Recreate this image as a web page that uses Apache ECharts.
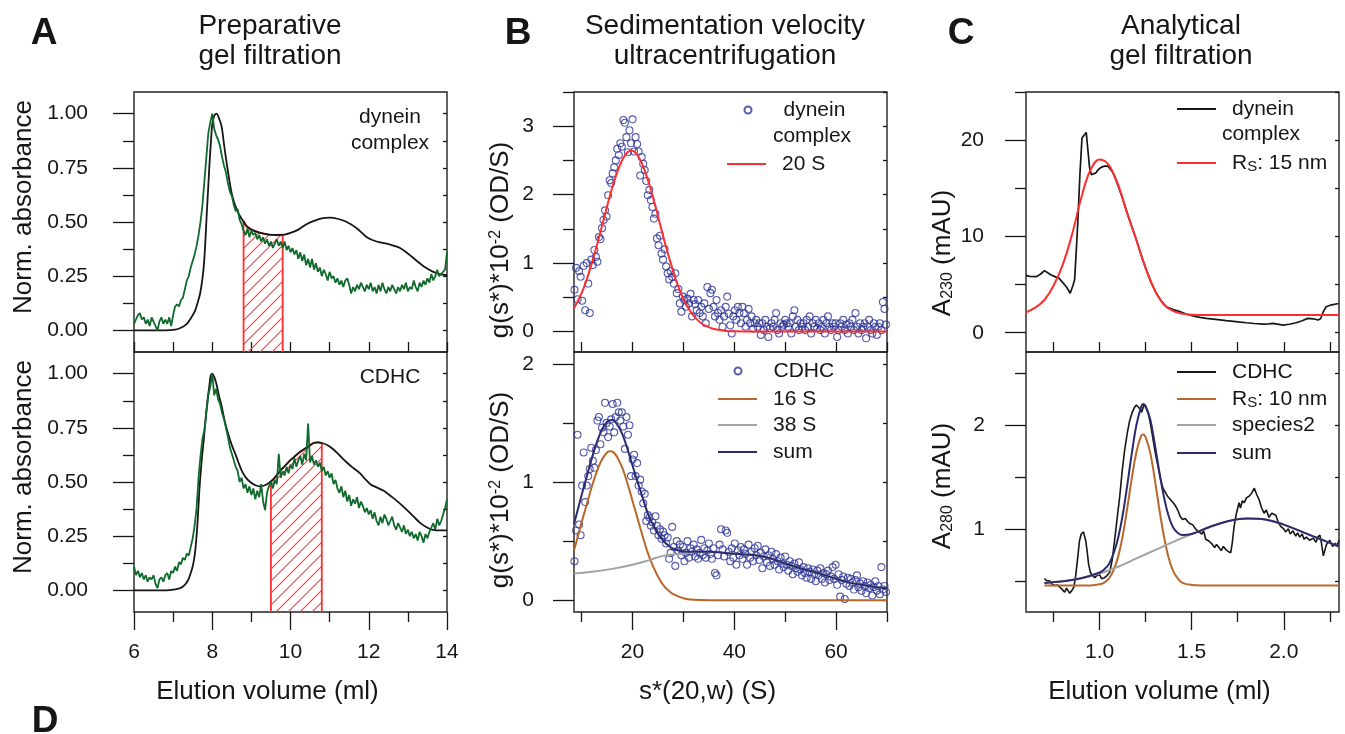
<!DOCTYPE html>
<html><head><meta charset="utf-8">
<script src="https://cdn.jsdelivr.net/npm/echarts@6.0.0/dist/echarts.min.js"></script>
<style>html,body{margin:0;padding:0;background:#fff}#c{width:1345px;height:734px}</style>
</head><body><div id="c"></div>
<script>
// ---------------- DATA ----------------
// Panel A: preparative gel filtration (elution volume grid for noisy green traces)
const volGridA = [6,6.05,6.1,6.15,6.2,6.25,6.3,6.35,6.4,6.45,6.5,6.55,6.6,6.65,6.7,6.75,6.8,6.85,6.9,6.95,
7,7.05,7.1,7.15,7.2,7.25,7.3,7.35,7.4,7.45,7.5,7.55,7.6,7.65,7.7,7.75,7.8,7.85,7.9,7.95,
8,8.05,8.1,8.15,8.2,8.25,8.3,8.35,8.4,8.45,8.5,8.55,8.6,8.65,8.7,8.75,8.8,8.85,8.9,8.95,
9,9.05,9.1,9.15,9.2,9.25,9.3,9.35,9.4,9.45,9.5,9.55,9.6,9.65,9.7,9.75,9.8,9.85,9.9,9.95,
10,10.05,10.1,10.15,10.2,10.25,10.3,10.35,10.4,10.45,10.5,10.55,10.6,10.65,10.7,10.75,10.8,10.85,10.9,10.95,
11,11.05,11.1,11.15,11.2,11.25,11.3,11.35,11.4,11.45,11.5,11.55,11.6,11.65,11.7,11.75,11.8,11.85,11.9,11.95,
12,12.05,12.1,12.15,12.2,12.25,12.3,12.35,12.4,12.45,12.5,12.55,12.6,12.65,12.7,12.75,12.8,12.85,12.9,12.95,
13,13.05,13.1,13.15,13.2,13.25,13.3,13.35,13.4,13.45,13.5,13.55,13.6,13.65,13.7,13.75,13.8,13.85,13.9,13.95,
14];
const greenDynein = [0.03,0.05,0.07,0.08,0.05,0.06,0.03,0.05,0.02,0.06,0.04,0.02,0.00,0.04,0.06,0.03,0.05,0.03,0.06,0.02,
0.07,0.11,0.12,0.11,0.14,0.15,0.19,0.23,0.25,0.29,0.32,0.35,0.39,0.44,0.50,0.58,0.69,0.80,0.91,0.96,
1.00,0.93,0.90,0.88,0.85,0.80,0.76,0.73,0.68,0.64,0.62,0.58,0.55,0.56,0.51,0.49,0.46,0.44,0.47,0.43,
0.46,0.44,0.45,0.42,0.44,0.41,0.43,0.40,0.42,0.39,0.41,0.38,0.40,0.42,0.39,0.41,0.38,0.41,0.37,0.39,
0.36,0.38,0.35,0.37,0.33,0.36,0.32,0.35,0.30,0.33,0.29,0.33,0.28,0.31,0.27,0.29,0.25,0.28,0.26,0.23,
0.27,0.24,0.25,0.22,0.24,0.21,0.23,0.20,0.23,0.24,0.21,0.17,0.20,0.18,0.21,0.19,0.22,0.20,0.18,0.21,
0.19,0.22,0.18,0.20,0.17,0.21,0.18,0.22,0.19,0.17,0.20,0.18,0.21,0.19,0.17,0.20,0.18,0.21,0.19,0.22,
0.18,0.20,0.19,0.23,0.20,0.18,0.22,0.20,0.23,0.21,0.24,0.22,0.26,0.23,0.25,0.28,0.25,0.26,0.26,0.28,
0.36];
const greenCDHC = [0.11,0.07,0.09,0.06,0.08,0.05,0.07,0.04,0.06,0.05,0.07,0.03,0.01,0.05,0.06,0.04,0.07,0.08,0.05,0.09,
0.08,0.11,0.09,0.13,0.12,0.15,0.14,0.17,0.16,0.20,0.24,0.30,0.38,0.52,0.62,0.70,0.74,0.82,0.90,0.94,
1.00,0.90,0.93,0.88,0.86,0.82,0.79,0.75,0.71,0.66,0.63,0.60,0.57,0.55,0.50,0.52,0.47,0.49,0.45,0.48,
0.44,0.47,0.42,0.46,0.43,0.49,0.41,0.37,0.45,0.48,0.50,0.47,0.51,0.49,0.63,0.52,0.55,0.53,0.57,0.54,
0.58,0.56,0.61,0.57,0.60,0.62,0.58,0.63,0.60,0.77,0.59,0.62,0.58,0.60,0.57,0.59,0.55,0.57,0.53,0.55,
0.52,0.54,0.49,0.51,0.47,0.45,0.48,0.43,0.46,0.41,0.44,0.39,0.42,0.40,0.43,0.38,0.41,0.39,0.36,0.38,
0.35,0.37,0.33,0.36,0.32,0.30,0.34,0.31,0.35,0.33,0.30,0.32,0.34,0.30,0.28,0.31,0.29,0.27,0.30,0.26,
0.28,0.25,0.27,0.24,0.26,0.23,0.27,0.25,0.22,0.26,0.24,0.27,0.29,0.31,0.28,0.33,0.30,0.32,0.35,0.38,
0.42];
const blackDynein = [[6,0],[6.8,0],[7.05,0.003],[7.2,0.012],[7.35,0.03],[7.45,0.055],[7.56,0.09],[7.63,0.13],[7.69,0.17],[7.75,0.24],[7.79,0.31],[7.83,0.43],[7.86,0.54],[7.9,0.67],[7.93,0.77],[7.97,0.88],[8.0,0.95],[8.05,0.99],[8.11,1.0],[8.17,0.98],[8.24,0.94],[8.3,0.86],[8.37,0.77],[8.44,0.69],[8.5,0.63],[8.58,0.58],[8.67,0.54],[8.77,0.51],[8.88,0.48],[9.0,0.465],[9.23,0.45],[9.45,0.442],[9.65,0.44],[9.85,0.442],[10.0,0.45],[10.2,0.465],[10.41,0.49],[10.6,0.505],[10.8,0.517],[11.0,0.52],[11.2,0.515],[11.44,0.5],[11.7,0.47],[11.95,0.43],[12.2,0.41],[12.46,0.4],[12.65,0.39],[12.8,0.38],[13.0,0.355],[13.23,0.32],[13.45,0.29],[13.65,0.27],[13.85,0.258],[14,0.255]];
const blackCDHC = [[6,0],[6.83,0],[7.0,0.003],[7.18,0.01],[7.3,0.025],[7.39,0.05],[7.45,0.08],[7.5,0.11],[7.55,0.16],[7.59,0.23],[7.63,0.33],[7.67,0.46],[7.72,0.58],[7.78,0.69],[7.83,0.79],[7.88,0.88],[7.93,0.95],[7.96,0.99],[8.0,1.0],[8.05,0.985],[8.11,0.95],[8.17,0.9],[8.24,0.85],[8.32,0.78],[8.41,0.72],[8.5,0.67],[8.59,0.63],[8.67,0.59],[8.76,0.55],[8.86,0.52],[8.97,0.5],[9.1,0.485],[9.22,0.48],[9.35,0.485],[9.48,0.5],[9.6,0.52],[9.73,0.55],[9.86,0.575],[9.99,0.6],[10.12,0.62],[10.25,0.64],[10.42,0.66],[10.59,0.68],[10.7,0.683],[10.8,0.68],[10.95,0.67],[11.1,0.65],[11.27,0.62],[11.44,0.59],[11.6,0.565],[11.78,0.54],[11.9,0.515],[12.04,0.49],[12.2,0.475],[12.38,0.46],[12.6,0.43],[12.8,0.4],[12.98,0.37],[13.15,0.34],[13.32,0.31],[13.49,0.29],[13.62,0.28],[13.74,0.277],[14,0.277]];
const poolDynein = [[8.8,-0.1],[8.8,0.505],[8.88,0.48],[9.0,0.465],[9.23,0.45],[9.45,0.442],[9.65,0.44],[9.8,0.442],[9.8,-0.1]];
const poolCDHC = [[9.5,-0.1],[9.5,0.5],[9.6,0.52],[9.73,0.55],[9.86,0.575],[9.99,0.6],[10.12,0.62],[10.25,0.64],[10.42,0.66],[10.59,0.68],[10.7,0.683],[10.8,0.68],[10.8,-0.1]];

// Panel B: sedimentation velocity, g(s*) on an s* grid
const sGrid = [8.6,8.9,9.2,9.5,9.8,10.1,10.4,10.7,11.0,11.3,
11.6,11.9,12.2,12.5,12.8,13.1,13.4,13.7,14.0,14.3,
14.6,14.9,15.2,15.5,15.8,16.1,16.4,16.7,17.0,17.3,
17.6,17.9,18.2,18.5,18.8,19.1,19.4,19.7,20.0,20.3,
20.6,20.9,21.2,21.5,21.8,22.1,22.4,22.7,23.0,23.3,
23.6,23.9,24.2,24.5,24.8,25.1,25.4,25.7,26.0,26.3,
26.6,26.9,27.2,27.5,27.8,28.1,28.4,28.7,29.0,29.3,
29.6,29.9,30.2,30.5,30.8,31.1,31.4,31.7,32.0,32.3,
32.6,32.9,33.2,33.5,33.8,34.1,34.4,34.7,35.0,35.3,
35.6,35.9,36.2,36.5,36.8,37.1,37.4,37.7,38.0,38.3,
38.6,38.9,39.2,39.5,39.8,40.1,40.4,40.7,41.0,41.3,
41.6,41.9,42.2,42.5,42.8,43.1,43.4,43.7,44.0,44.3,
44.6,44.9,45.2,45.5,45.8,46.1,46.4,46.7,47.0,47.3,
47.6,47.9,48.2,48.5,48.8,49.1,49.4,49.7,50.0,50.3,
50.6,50.9,51.2,51.5,51.8,52.1,52.4,52.7,53.0,53.3,
53.6,53.9,54.2,54.5,54.8,55.1,55.4,55.7,56.0,56.3,
56.6,56.9,57.2,57.5,57.8,58.1,58.4,58.7,59.0,59.3,
59.6,59.9,60.2,60.5,60.8,61.1,61.4,61.7,62.0,62.3,
62.6,62.9,63.2,63.5,63.8,64.1,64.4,64.7,65.0,65.3,
65.6,65.9,66.2,66.5,66.8,67.1,67.4,67.7,68.0,68.3,
68.6,68.9,69.2,69.5,69.8];
const gDynein = [0.61,0.93,0.47,0.88,0.80,0.45,0.96,0.31,1.00,0.70,
0.27,1.05,0.97,1.19,1.09,1.02,1.38,1.35,1.51,1.63,
1.77,1.68,1.99,2.21,2.17,2.31,2.40,2.50,2.67,2.58,
2.75,2.70,3.09,3.05,2.84,2.62,2.94,2.75,3.10,2.63,
2.84,2.74,2.63,2.28,2.55,2.45,2.36,2.20,1.99,2.07,
1.92,1.82,1.65,1.72,1.36,1.26,1.40,1.14,1.05,1.20,
0.95,0.85,0.76,0.88,0.80,0.70,0.85,0.56,0.62,0.41,
0.29,0.51,0.46,0.36,0.48,0.41,0.55,0.22,0.46,0.40,
0.31,0.46,0.27,0.36,0.22,0.41,0.12,0.65,0.33,0.56,
0.61,0.36,0.22,0.46,0.27,0.17,0.31,0.07,0.22,0.36,
0.51,0.26,0.09,-0.03,0.22,0.31,0.17,0.36,0.27,0.12,
0.36,0.27,0.07,0.17,0.33,0.12,0.22,0.04,0.12,0.17,
0.07,0.12,-0.05,0.12,0.02,0.17,0.07,-0.08,0.05,0.12,
0.07,0.17,0.27,0.02,-0.03,0.12,0.07,0.10,0.17,0.12,
0.07,0.12,-0.03,0.22,0.31,0.07,0.17,0.02,0.12,0.07,
0.12,0.02,0.17,0.07,0.22,-0.03,0.12,0.07,0.17,0.05,
0.12,0.02,0.07,0.17,-0.03,0.12,0.22,0.07,0.02,0.12,
0.07,0.12,-0.08,0.02,0.12,0.07,0.17,0.02,0.10,-0.03,
0.12,0.07,0.17,0.02,0.27,0.07,-0.03,0.12,0.02,0.07,
0.12,-0.10,0.07,0.17,0.02,-0.03,0.12,0.07,-0.05,0.07,
0.12,0.02,0.43,0.33,0.10];
const gCDHC = [0.33,0.59,1.40,0.64,0.55,0.97,1.25,0.83,0.97,1.05,
1.11,1.29,1.18,1.12,1.27,1.52,1.55,1.32,1.46,1.42,
1.67,1.50,1.38,1.47,1.53,1.66,1.42,1.55,1.67,1.59,
1.52,1.59,1.47,1.28,1.55,1.40,1.48,1.05,1.19,1.23,
1.05,1.16,0.97,1.02,0.92,0.82,0.90,0.67,0.72,0.70,
0.63,0.66,0.59,0.71,0.63,0.55,0.60,0.52,0.58,0.55,
0.48,0.53,0.35,0.40,0.62,0.45,0.29,0.50,0.42,0.47,
0.38,0.45,0.33,0.40,0.50,0.36,0.44,0.41,0.47,0.37,
0.43,0.35,0.40,0.51,0.38,0.44,0.36,0.42,0.48,0.39,
0.35,0.44,0.23,0.21,0.38,0.47,0.60,0.43,0.37,0.59,
0.57,0.41,0.33,0.44,0.36,0.48,0.30,0.42,0.38,0.45,
0.35,0.43,0.39,0.30,0.47,0.36,0.41,0.33,0.44,0.38,
0.46,0.34,0.40,0.27,0.37,0.43,0.32,0.38,0.29,0.41,
0.35,0.30,0.39,0.33,0.26,0.36,0.31,0.28,0.37,0.30,
0.25,0.33,0.29,0.22,0.31,0.27,0.24,0.32,0.26,0.21,
0.28,0.23,0.19,0.27,0.24,0.18,0.26,0.22,0.16,0.25,
0.21,0.27,0.18,0.23,0.15,0.22,0.25,0.17,0.20,0.28,
0.18,0.30,0.13,0.22,0.03,0.17,0.20,0.01,0.14,0.19,
0.12,0.18,0.15,0.09,0.17,0.21,0.11,0.14,0.08,0.16,
0.12,0.06,0.15,0.10,0.13,0.04,0.11,0.16,0.08,0.12,
0.05,0.28,0.09,0.12,0.07];
const fit20S = [[8.5,0.34],[10,0.56],[11,0.76],[12,1.00],[13,1.26],[14,1.54],[15,1.83],[16,2.10],[17,2.33],[18,2.51],[19,2.62],[19.75,2.64],[20.5,2.62],[21.5,2.51],[22.5,2.33],[23.5,2.10],[24.5,1.83],[25.5,1.54],[26.5,1.26],[27.5,1.00],[28.5,0.76],[29.5,0.56],[30.5,0.40],[31.5,0.28],[32.5,0.19],[33.5,0.12],[34.5,0.077],[36,0.036],[38,0.012],[40,0.003],[45,0],[70,0]];
const fit16S = [[8.5,0.42],[10,0.66],[11,0.81],[12,0.96],[13,1.09],[14,1.19],[15,1.25],[15.6,1.26],[16,1.258],[17,1.21],[18,1.12],[19,0.99],[20,0.84],[21,0.69],[22,0.54],[23,0.40],[24,0.29],[25,0.20],[26,0.13],[27,0.084],[28,0.051],[30,0.017],[32,0.004],[35,0],[70,0]];
const fit38S = [[8.5,0.225],[12,0.24],[16,0.265],[20,0.30],[23,0.335],[26,0.375],[29,0.39],[32,0.405],[35,0.41],[38,0.40],[41,0.39],[44,0.38],[47,0.355],[50,0.31],[53,0.27],[56,0.235],[59,0.195],[62,0.155],[65,0.13],[68,0.11],[70,0.10]];
const fitSumSV = [[8.5,0.645],[10,0.89],[11,1.045],[12,1.2],[13,1.337],[14,1.443],[15,1.51],[16,1.525],[17,1.485],[18,1.405],[19,1.28],[20,1.14],[21,1.0],[22,0.865],[23,0.735],[24,0.64],[25,0.56],[26,0.505],[27,0.464],[28,0.436],[30,0.412],[32,0.409],[35,0.41],[38,0.40],[41,0.39],[44,0.38],[47,0.355],[50,0.31],[53,0.27],[56,0.235],[59,0.195],[62,0.155],[65,0.13],[68,0.11],[70,0.10]];

// Panel C: analytical gel filtration
const a230Dynein = [[0.6,5.95],[0.62,5.85],[0.656,5.82],[0.68,6.1],[0.7,6.45],[0.72,6.2],[0.737,6.0],[0.76,5.8],[0.78,5.65],[0.8,5.2],[0.819,4.78],[0.84,4.1],[0.855,4.9],[0.864,5.5],[0.873,8.5],[0.882,11.7],[0.893,16.5],[0.904,20.2],[0.915,20.5],[0.927,20.8],[0.936,19.0],[0.945,17.2],[0.955,16.4],[0.965,16.2],[0.98,16.6],[0.99,16.9],[1.01,17.2],[1.027,17.3],[1.045,17.3],[1.054,17.2],[1.07,16.7],[1.09,15.8],[1.12,14.2],[1.145,12.7],[1.175,11.0],[1.2,9.6],[1.23,7.8],[1.254,6.5],[1.28,5.2],[1.308,4.1],[1.335,3.3],[1.362,2.7],[1.4,2.4],[1.435,2.19],[1.47,1.95],[1.507,1.74],[1.545,1.6],[1.58,1.49],[1.63,1.38],[1.688,1.25],[1.74,1.15],[1.797,1.04],[1.84,0.96],[1.888,0.9],[1.92,0.93],[1.94,0.97],[1.965,0.9],[1.996,0.79],[2.03,0.88],[2.068,1.04],[2.1,1.25],[2.13,1.49],[2.16,1.45],[2.186,1.32],[2.2,1.45],[2.215,2.2],[2.23,2.7],[2.26,2.9],[2.298,3.04]];
const fitRs15 = [[0.6,2.12],[0.65,2.6],[0.7,3.4],[0.75,4.9],[0.8,7.1],[0.85,10.2],[0.9,14.0],[0.95,16.9],[1.0,18.0],[1.03,17.8],[1.06,17.1],[1.1,15.4],[1.15,12.4],[1.2,9.6],[1.25,6.7],[1.3,4.4],[1.35,2.9],[1.4,2.25],[1.45,1.98],[1.5,1.88],[1.6,1.84],[2.3,1.84]];
const a280CDHC = [[0.7,0.52],[0.715,0.5],[0.728,0.5],[0.74,0.47],[0.755,0.455],[0.77,0.46],[0.783,0.44],[0.795,0.42],[0.81,0.39],[0.82,0.43],[0.83,0.4],[0.837,0.38],[0.85,0.41],[0.86,0.44],[0.87,0.55],[0.882,0.74],[0.89,0.88],[0.9,0.95],[0.912,0.97],[0.918,0.96],[0.925,0.88],[0.933,0.77],[0.94,0.66],[0.95,0.58],[0.96,0.55],[0.973,0.53],[0.985,0.55],[1.0,0.56],[1.01,0.52],[1.027,0.53],[1.04,0.55],[1.054,0.58],[1.068,0.7],[1.082,0.9],[1.095,1.1],[1.109,1.31],[1.122,1.55],[1.136,1.76],[1.15,1.92],[1.163,2.04],[1.177,2.12],[1.19,2.17],[1.2,2.19],[1.21,2.19],[1.22,2.15],[1.228,2.12],[1.235,2.16],[1.241,2.19],[1.25,2.17],[1.264,2.11],[1.277,2.0],[1.29,1.86],[1.303,1.72],[1.317,1.6],[1.33,1.48],[1.344,1.39],[1.357,1.35],[1.37,1.31],[1.385,1.28],[1.4,1.25],[1.412,1.22],[1.424,1.18],[1.437,1.12],[1.45,1.09],[1.465,1.1],[1.478,1.07],[1.49,1.05],[1.505,1.04],[1.52,1.0],[1.54,0.97],[1.555,0.95],[1.565,0.98],[1.576,0.9],[1.595,0.88],[1.612,0.85],[1.625,0.82],[1.635,0.85],[1.648,0.82],[1.66,0.79],[1.672,0.83],[1.685,0.8],[1.7,0.78],[1.712,0.77],[1.72,0.86],[1.73,1.02],[1.743,1.15],[1.757,1.25],[1.765,1.2],[1.775,1.27],[1.785,1.25],[1.798,1.3],[1.81,1.31],[1.825,1.34],[1.84,1.39],[1.853,1.33],[1.866,1.28],[1.88,1.2],[1.893,1.15],[1.905,1.18],[1.92,1.11],[1.935,1.15],[1.945,1.16],[1.957,1.13],[1.97,1.06],[1.985,1.02],[2.0,1.0],[2.01,0.97],[2.025,1.0],[2.035,0.95],[2.05,0.98],[2.065,0.93],[2.075,0.96],[2.087,0.92],[2.1,0.95],[2.11,0.9],[2.123,0.92],[2.14,0.89],[2.16,0.91],[2.175,0.87],[2.185,0.92],[2.196,0.94],[2.205,0.86],[2.215,0.74],[2.222,0.73],[2.232,0.85],[2.25,0.89],[2.265,0.83],[2.28,0.86],[2.29,0.84],[2.3,0.89]];
const fitRs10 = [[0.7,0.456],[0.95,0.456],[1.0,0.466],[1.025,0.483],[1.05,0.52],[1.075,0.6],[1.1,0.73],[1.125,0.93],[1.15,1.2],[1.175,1.49],[1.2,1.74],[1.225,1.89],[1.2375,1.906],[1.25,1.88],[1.275,1.73],[1.3,1.47],[1.325,1.18],[1.35,0.92],[1.375,0.72],[1.4,0.59],[1.425,0.52],[1.45,0.48],[1.5,0.46],[1.55,0.456],[2.3,0.456]];
const fitSpecies2 = [[0.7,0.48],[0.8,0.495],[0.9,0.525],[1.0,0.57],[1.1,0.635],[1.2,0.715],[1.3,0.795],[1.4,0.875],[1.5,0.95],[1.6,1.02],[1.7,1.075],[1.8,1.1],[1.9,1.09],[2.0,1.04],[2.1,0.97],[2.2,0.9],[2.3,0.83]];
const fitSumGF = [[0.7,0.48],[0.8,0.495],[0.9,0.525],[1.0,0.58],[1.025,0.61],[1.05,0.66],[1.075,0.76],[1.1,0.91],[1.125,1.13],[1.15,1.42],[1.175,1.73],[1.2,2.0],[1.225,2.17],[1.2375,2.2],[1.25,2.18],[1.275,2.05],[1.3,1.81],[1.325,1.54],[1.35,1.3],[1.375,1.12],[1.4,1.01],[1.425,0.96],[1.45,0.94],[1.5,0.95],[1.6,1.02],[1.7,1.075],[1.8,1.1],[1.9,1.09],[2.0,1.04],[2.1,0.97],[2.2,0.9],[2.3,0.83]];

// Tick values
const ticksAx = [6,8,10,12,14], ticksAxMinor = [7,9,11,13];
const ticksAy = [0,0.25,0.5,0.75,1], ticksAyMinor = [0.125,0.375,0.625,0.875];
const ticksBx = [20,40,60], ticksBxMinor = [10,30,50,70];
const ticksB1y = [0,1,2,3], ticksB1yMinor = [0.5,1.5,2.5,3.5];
const ticksB2y = [0,1,2], ticksB2yMinor = [0.5,1.5];
const ticksCx = [1.0,1.5,2.0], ticksCxMinor = [0.75,1.25,1.75,2.25];
const ticksC1y = [0,10,20], ticksC1yMinor = [5,15,25];
const ticksC2y = [1,2], ticksC2yMinor = [0.5,1.5,2.5];

// ---------------- STYLE / LAYOUT ----------------
const FONT = 'Liberation Sans, Arial, Helvetica, sans-serif';
const INK = '#161616';
const GREEN = '#0f6a2c', RED = '#ff2e2e', NAVY_PT = '#2e3596', BROWN = '#b8682a', GRAY = '#a3a3a3', NAVY = '#2a2c6c';
const TL = {color: INK, width: 1.3};

const grids = [
  {left:134, top:92, width:313, height:260}, {left:134, top:352, width:313, height:260},
  {left:574, top:92, width:313, height:260}, {left:574, top:352, width:313, height:260},
  {left:1026, top:92, width:313, height:260}, {left:1026, top:352, width:313, height:260}
].map(g => Object.assign({show:true, borderColor:'#222', borderWidth:1.4, backgroundColor:'rgba(0,0,0,0)', containLabel:false}, g));

const xAxes = [], yAxes = [];
function panel(g, c) {
  let xi;
  const base = {type:'value', gridIndex:g, min:c.xmin, max:c.xmax, position:'bottom', splitLine:{show:false}, axisLine:{show:false, onZero:false}};
  if (c.bottom) {
    xAxes.push(Object.assign({}, base, {
      axisTick:{show:true, inside:false, length:18, customValues:c.xMajor, lineStyle:TL},
      axisLabel:{show:true, customValues:c.xMajor, margin:30, fontSize:21, color:INK, fontFamily:FONT, formatter:c.xFmt},
      name:c.xName, nameLocation:'middle', nameGap:67,
      nameTextStyle:{fontSize:26, color:INK, fontFamily:FONT, padding:[0,46,0,0]}}));
    xi = xAxes.length - 1;
    xAxes.push(Object.assign({}, base, {
      axisTick:{show:true, inside:false, length:10, customValues:c.xMinor, lineStyle:TL}, axisLabel:{show:false}}));
  } else {
    xAxes.push(Object.assign({}, base, {
      axisTick:{show:true, inside:true, length:10, customValues:c.xMajor.concat(c.xMinor), lineStyle:TL}, axisLabel:{show:false}}));
    xi = xAxes.length - 1;
  }
  const yb = {type:'value', gridIndex:g, min:c.ymin, max:c.ymax, splitLine:{show:false}, axisLine:{show:false, onZero:false}};
  yAxes.push(Object.assign({}, yb, {position:'left',
    axisTick:{show:true, length:21, customValues:c.yMajor, lineStyle:TL},
    axisLabel:{show:true, customValues:c.yMajor, margin:c.yMargin, fontSize:21, color:INK, fontFamily:FONT, formatter:c.yFmt},
    name:c.yName, nameLocation:'middle', nameGap:c.yGap,
    nameTextStyle:{fontSize:26, color:INK, fontFamily:FONT, padding:c.yPad, rich:c.yRich || {}}}));
  const yi = yAxes.length - 1;
  yAxes.push(Object.assign({}, yb, {position:'left',
    axisTick:{show:true, length:11, customValues:c.yMinor, lineStyle:TL}, axisLabel:{show:false}}));
  yAxes.push(Object.assign({}, yb, {position:'right',
    axisTick:{show:true, inside:true, length:4, customValues:c.yMajor.concat(c.yMinor), lineStyle:TL}, axisLabel:{show:false}}));
  return {x:xi, y:yi};
}
const f2 = v => v.toFixed(2), f1 = v => v.toFixed(1), f0 = v => String(v);
const supRich = {sup:{fontSize:16, verticalAlign:'top', color:INK, fontFamily:FONT}};
const subRich = {sub:{fontSize:16, verticalAlign:'bottom', color:INK, fontFamily:FONT, padding:[6,0,0,0]}};

const pA1 = panel(0, {bottom:false, xmin:6, xmax:14, xMajor:ticksAx, xMinor:ticksAxMinor, ymin:-0.1, ymax:1.1, yMajor:ticksAy, yMinor:ticksAyMinor, yFmt:f2, yMargin:46, yName:'Norm. absorbance', yGap:97, yPad:[0,0,0,30]});
const pA2 = panel(1, {bottom:true, xmin:6, xmax:14, xMajor:ticksAx, xMinor:ticksAxMinor, xFmt:f0, xName:'Elution volume (ml)', ymin:-0.1, ymax:1.1, yMajor:ticksAy, yMinor:ticksAyMinor, yFmt:f2, yMargin:46, yName:'Norm. absorbance', yGap:97, yPad:[0,0,0,30]});
const pB1 = panel(2, {bottom:false, xmin:8.5, xmax:70, xMajor:ticksBx, xMinor:ticksBxMinor, ymin:-0.3, ymax:3.5, yMajor:ticksB1y, yMinor:ticksB1yMinor, yFmt:f0, yMargin:40, yName:'g(s*)*10{sup|-2} (OD/S)', yRich:supRich, yGap:60, yPad:[0,36,0,0]});
const pB2 = panel(3, {bottom:true, xmin:8.5, xmax:70, xMajor:ticksBx, xMinor:ticksBxMinor, xFmt:f0, xName:'s*(20,w) (S)', ymin:-0.1, ymax:2.1, yMajor:ticksB2y, yMinor:ticksB2yMinor, yFmt:f0, yMargin:40, yName:'g(s*)*10{sup|-2} (OD/S)', yRich:supRich, yGap:60, yPad:[0,16,0,0]});
const pC1 = panel(4, {bottom:false, xmin:0.6, xmax:2.3, xMajor:ticksCx, xMinor:ticksCxMinor, ymin:-2, ymax:25, yMajor:ticksC1y, yMinor:ticksC1yMinor, yFmt:f0, yMargin:42, yName:'A{sub|230} (mAU)', yRich:subRich, yGap:70, yPad:[0,62,0,0]});
const pC2 = panel(5, {bottom:true, xmin:0.6, xmax:2.3, xMajor:ticksCx, xMinor:ticksCxMinor, xFmt:f1, xName:'Elution volume (ml)', ymin:0.2, ymax:2.7, yMajor:ticksC2y, yMinor:ticksC2yMinor, yFmt:f0, yMargin:41, yName:'A{sub|280} (mAU)', yRich:subRich, yGap:70, yPad:[0,8,0,0]});

function hatchCanvas() {
  const c = document.createElement('canvas'); c.width = 12; c.height = 12;
  const g = c.getContext('2d'); g.strokeStyle = '#ff3a3a'; g.lineWidth = 1.1;
  g.beginPath(); g.moveTo(0,12); g.lineTo(12,0); g.moveTo(-2,2); g.lineTo(2,-2); g.moveTo(10,14); g.lineTo(14,10); g.stroke();
  return c;
}
const HATCH = hatchCanvas();

function line(name, data, p, color, width, extra) {
  return Object.assign({type:'line', name, data, xAxisIndex:p.x, yAxisIndex:p.y, showSymbol:false, symbol:'none',
    lineStyle:{color, width}, itemStyle:{color}, silent:true, animation:false}, extra || {});
}
function pool(name, data, p) {
  return {type:'line', name, data, xAxisIndex:p.x, yAxisIndex:p.y, showSymbol:false, symbol:'none', z:1,
    lineStyle:{color:'#ff3030', width:1.8}, itemStyle:{color:'#ff3030'},
    areaStyle:{origin:'start', color:{image:HATCH, repeat:'repeat'}, opacity:1}, silent:true};
}
function dots(name, xs, ys, p) {
  return {type:'scatter', name, data: xs.map((x,i)=>[x, ys[i]]), xAxisIndex:p.x, yAxisIndex:p.y,
    symbol:'circle', symbolSize:7, itemStyle:{color:'rgba(255,255,255,0)', borderColor:NAVY_PT, borderWidth:1.1}, silent:true};
}

const series = [
  pool('pool dynein', poolDynein, pA1),
  line('dynein A280', blackDynein, pA1, INK, 1.8, {smooth:0.3}),
  line('dynein fraction trace', volGridA.map((x,i)=>[x, greenDynein[i]]), pA1, GREEN, 1.8),
  pool('pool CDHC', poolCDHC, pA2),
  line('CDHC A280', blackCDHC, pA2, INK, 1.8, {smooth:0.3}),
  line('CDHC fraction trace', volGridA.map((x,i)=>[x, greenCDHC[i]]), pA2, GREEN, 1.8),
  dots('dynein complex (SV)', sGrid, gDynein, pB1),
  line('20 S', fit20S, pB1, RED, 2, {smooth:0.4}),
  dots('CDHC (SV)', sGrid, gCDHC, pB2),
  line('16 S', fit16S, pB2, BROWN, 2, {smooth:0.4}),
  line('38 S', fit38S, pB2, GRAY, 2, {smooth:0.4}),
  line('sum (SV)', fitSumSV, pB2, NAVY, 2, {smooth:0.4}),
  line('dynein complex (GF)', a230Dynein, pC1, INK, 1.7),
  line('Rs: 15 nm', fitRs15, pC1, RED, 2, {smooth:0.4}),
  line('CDHC (GF)', a280CDHC, pC2, INK, 1.6),
  line('Rs: 10 nm', fitRs10, pC2, BROWN, 2, {smooth:0.4}),
  line('species2', fitSpecies2, pC2, GRAY, 2, {smooth:0.4}),
  line('sum (GF)', fitSumGF, pC2, NAVY, 2, {smooth:0.4})
];

const labelMap = {'dynein complex (SV)':'{t|dynein}', 'CDHC (SV)':'{t|CDHC}', 'sum (SV)':'{t|sum}', 'dynein complex (GF)':'{t|dynein}',
  'CDHC (GF)':'{t|CDHC}', 'sum (GF)':'{t|sum}', 'Rs: 15 nm':'{t|R}{s|S}{u|: 15 nm}', 'Rs: 10 nm':'{t|R}{s|S}{u|: 10 nm}'};
function leg(name, left, cy, dot) {
  const ih = dot ? 7 : 2, iw = dot ? 7 : 39, pad = dot ? 27 : 11;
  const ts = {fontSize:21, color:INK, fontFamily:FONT};
  return {show:true, data:[{name, icon: dot ? 'circle' : 'rect'}], left, top: cy - 8.5, orient:'vertical', padding:0,
    itemWidth:iw, itemHeight:ih, selectedMode:false,
    textStyle:Object.assign({}, ts, {rich:{
      t:Object.assign({}, ts, {padding:[0,0,0,pad]}),
      u:Object.assign({}, ts),
      s:{fontSize:15, verticalAlign:'bottom', color:INK, fontFamily:FONT, padding:[8,0,0,0]}}}),
    formatter: n => labelMap[n] || ('{t|' + n + '}')};
}
const legends = [
  leg('dynein complex (SV)', 743.5, 108, true), leg('20 S', 727, 162),
  leg('CDHC (SV)', 733.5, 369, true), leg('16 S', 718, 397), leg('38 S', 718, 423), leg('sum (SV)', 718, 450),
  leg('dynein complex (GF)', 1177, 107), leg('Rs: 15 nm', 1177, 161),
  leg('CDHC (GF)', 1177, 370), leg('Rs: 10 nm', 1177, 397), leg('species2', 1177, 423), leg('sum (GF)', 1177, 451)
];

function ttl(text, left, top, size, weight, lh) {
  return {text, left, top, textAlign:'center', padding:0, itemGap:0,
    textStyle:{fontSize:size, fontWeight:weight, color:INK, fontFamily:FONT, lineHeight:lh || size}};
}
const titles = [
  ttl('Preparative\ngel filtration', 270, 11, 28, 'normal', 30),
  ttl('Sedimentation velocity\nultracentrifugation', 725, 11, 28, 'normal', 30),
  ttl('Analytical\ngel filtration', 1181, 11, 28, 'normal', 30),
  ttl('A', 44, 15, 37, 'bold'), ttl('B', 518, 15, 37, 'bold'), ttl('C', 961, 15, 37, 'bold'), ttl('D', 45, 703, 37, 'bold')
];

function note(text, x, y) {
  return {type:'text', x, y, silent:true, z:100,
    style:{text, fontSize:21, fontFamily:FONT, fill:INK, align:'center', verticalAlign:'middle', textAlign:'center', textVerticalAlign:'middle'}};
}

const chart = echarts.init(document.getElementById('c'), null, {renderer:'canvas'});
chart.setOption({
  animation:false,
  backgroundColor:'#fff',
  textStyle:{fontFamily:FONT},
  title: titles,
  grid: grids,
  xAxis: xAxes,
  yAxis: yAxes,
  legend: legends,
  series,
  graphic: [note('dynein', 390, 117), note('complex', 390, 143), note('CDHC', 390, 377),
            note('complex', 812, 136), note('complex', 1261, 134)]
});
</script></body></html>
